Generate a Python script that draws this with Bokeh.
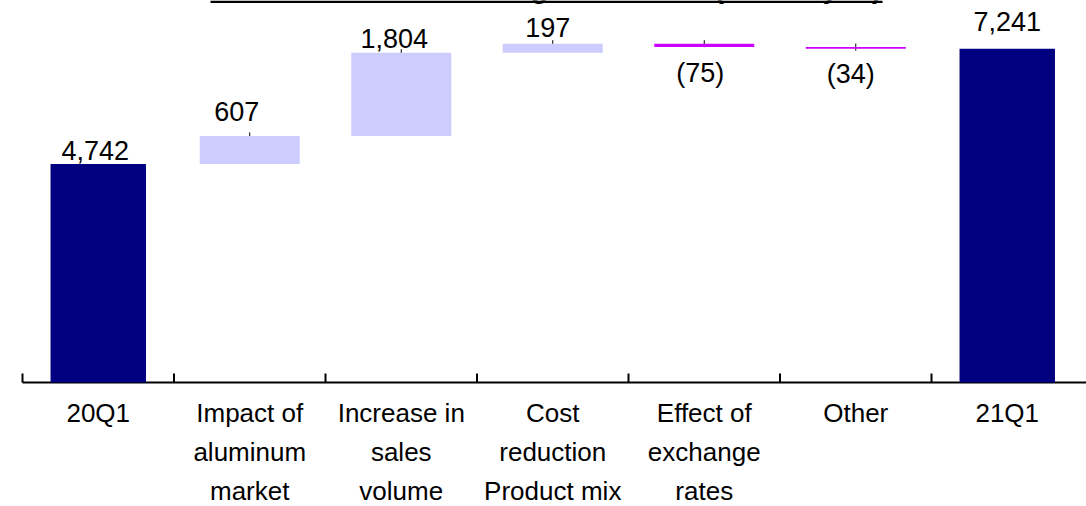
from bokeh.plotting import figure
from bokeh.models import Range1d, ColumnDataSource
from bokeh.core.properties import value
from bokeh.embed import file_html
from bokeh.resources import INLINE

# Bridge from 20Q1 to 21Q1 (million yen)
categories = ["20Q1", "Impact of\naluminum\nmarket", "Increase in\nsales\nvolume",
              "Cost\nreduction\nProduct mix", "Effect of\nexchange\nrates", "Other", "21Q1"]
start_total = 4742
end_total = 7241
changes = [607, 1804, 197, -75, -34]
value_labels = ["4,742", "607", "1,804", "197", "(75)", "(34)", "7,241"]

TITLE = "Breakdown of the Change in Income (Million yen)"

NAVY = "#000080"
LAVENDER = "#CCCCFF"
MAGENTA = "#CC00FF"
FONT = "Liberation Sans"

W, H = 1086, 506
LEFT = 22            # pixels left of the first category boundary
BASE = 382           # pixel row of the zero line
Y_MAX = 8286
px = Y_MAX / BASE    # data units per vertical pixel
STEP = 151.5         # pixels per category
xpx = 1.0 / STEP     # data units per horizontal pixel
BASELINE_FIX = 10    # alphabetic text sits this many pixels low in the svg output

p = figure(width=W, height=H, output_backend="svg", toolbar_location=None,
           x_axis_type=None, y_axis_type=None,
           x_range=Range1d(-0.5 - LEFT * xpx, -0.5 + (W - LEFT) * xpx),
           y_range=Range1d(-(H - BASE) * px, Y_MAX),
           min_border=0)
p.outline_line_color = None
p.grid.visible = False
p.background_fill_color = "white"
p.border_fill_color = "white"

n = len(categories)
x_end = -0.5 + (W - LEFT) * xpx

# base line with upward ticks at the category boundaries
p.segment(x0=[-0.5], x1=[x_end], y0=[0], y1=[0], line_color="black", line_width=2)
bounds = [i - 0.5 for i in range(n)]
p.segment(x0=bounds, x1=bounds, y0=[0] * len(bounds), y1=[9 * px] * len(bounds),
          line_color="black", line_width=2)

# running totals for the floating bars
xs_float, bottoms, tops, colors = [], [], [], []
level = start_total
for i, c in enumerate(changes):
    lo, hi = (level, level + c) if c >= 0 else (level + c, level)
    xs_float.append(i + 1)
    bottoms.append(lo)
    tops.append(hi)
    colors.append(LAVENDER if c >= 0 else MAGENTA)
    level += c

# small leader ticks at the top of each floating bar (behind the bars)
p.scatter(x=xs_float, y=tops, marker="dash", angle=1.5708, size=7,
          line_color="black", line_width=1)

p.vbar(x=[0, n - 1], bottom=0, top=[start_total, end_total], width=0.63,
       fill_color=NAVY, line_color=None)
p.vbar(x=xs_float, bottom=bottoms, top=tops, width=0.66,
       fill_color=colors, line_color=None)

# value labels
label_x = list(range(n))
label_y = [start_total] + [t if c >= 0 else b for c, t, b in zip(changes, tops, bottoms)] + [end_total]
x_shift = [-3, -13, -7, -5, -4, -5, 0]
y_shift = [d - BASELINE_FIX for d in [-3, -14, -4, -6, 36, 35, -17]]
src = ColumnDataSource(dict(x=label_x, y=label_y, t=value_labels,
                            xo=x_shift, yo=y_shift))
p.text(x="x", y="y", text="t", x_offset="xo", y_offset="yo", source=src,
       text_align="center", text_baseline="alphabetic",
       text_font=value(FONT), text_font_size="27px", text_color="black")

# category labels under the base line
cat_src = ColumnDataSource(dict(x=list(range(n)), y=[-(397 - BASE) * px] * n, t=categories))
p.text(x="x", y="y", text="t", source=cat_src, text_align="center",
       text_baseline="top", text_font=value(FONT), text_font_size="26px",
       text_color="black", text_line_height=1.31)

# underlined heading running off the top edge
title_x0 = -0.5 + (210 - LEFT) * xpx
title_x1 = -0.5 + (882 - LEFT) * xpx
p.text(x=[title_x0], y=[Y_MAX + 12.5 * px], text=[TITLE], text_align="left",
       text_baseline="alphabetic", text_font=value(FONT), text_font_style="bold",
       text_font_size="28.7px", text_color="black")
p.segment(x0=[title_x0], x1=[title_x1], y0=[Y_MAX - 1.3 * px], y1=[Y_MAX - 1.3 * px],
          line_color="black", line_width=2.6)

open("out.html", "w").write(file_html(p, INLINE))
